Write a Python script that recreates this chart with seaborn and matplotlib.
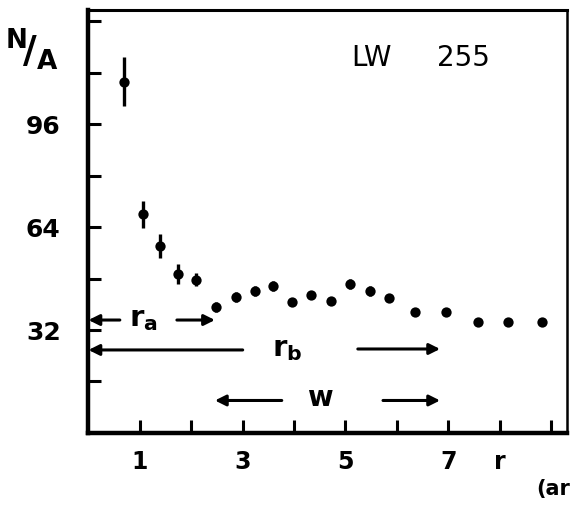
import numpy as np
import pandas as pd
import matplotlib
matplotlib.use("Agg")
import matplotlib.pyplot as plt
import seaborn as sns

# radius (arcmin) and surface density N/A
r_vals = [0.69, 1.07, 1.39, 1.75, 2.09, 2.48, 2.87, 3.24, 3.58, 3.96,
          4.32, 4.72, 5.09, 5.48, 5.85, 6.35, 6.95, 7.57, 8.17, 8.82]
density = [109.2, 67.9, 58.1, 49.4, 47.6, 39.1, 42.2, 44.2, 45.7, 40.6,
           43.0, 41.1, 46.3, 44.2, 42.0, 37.5, 37.5, 34.4, 34.4, 34.4]
errors = [7.7, 4.3, 3.7, 3.0, 2.0, 1.6, 1.5, 1.5, 1.6, 0.0,
          0.8, 0.0, 1.6, 1.5, 1.2, 0.0, 0.0, 0.0, 0.0, 0.0]

x_ticks = [1, 2, 3, 4, 5, 6, 7, 8, 9]
x_ticklabels = ["1", "", "3", "", "5", "", "7", "r", ""]
y_ticks = [16, 32, 48, 64, 80, 96, 112, 128]
y_ticklabels = ["", "32", "", "64", "", "96", "", ""]

df = pd.DataFrame({"r": r_vals, "na": density, "err": errors})

sns.set_style("ticks")
plt.rcParams["font.family"] = ["DejaVu Sans"]
plt.rcParams["mathtext.default"] = "regular"
plt.rcParams["text.color"] = "black"
plt.rcParams["xtick.color"] = "black"
plt.rcParams["ytick.color"] = "black"
plt.rcParams["axes.labelcolor"] = "black"

fig = plt.figure(figsize=(5.72, 5.07), dpi=100)
ax = fig.add_axes([0.1547, 0.146, 0.8366, 0.834])

ax.errorbar(df["r"], df["na"], yerr=df["err"], fmt="none", ecolor="black",
            elinewidth=2.4, capsize=0)
sns.scatterplot(data=df, x="r", y="na", ax=ax, color="black", s=55,
                edgecolor="black", linewidth=0, zorder=3)

ax.set_xlim(0, 9.31)
ax.set_ylim(0, 131.4)
ax.set_xticks(x_ticks)
ax.set_xticklabels(x_ticklabels, fontsize=17, fontweight="bold", color="black")
ax.set_yticks(y_ticks)
ax.set_yticklabels(y_ticklabels, fontsize=18, fontweight="bold", color="black")
ax.tick_params(axis="both", direction="in", length=9.5, width=2.2, color="black")
ax.tick_params(axis="y", pad=20)
ax.tick_params(axis="x", pad=12)
ax.set_xlabel("")
ax.set_ylabel("")

for side, lw in [("left", 3.2), ("bottom", 3.2), ("top", 2.2), ("right", 1.8)]:
    ax.spines[side].set_visible(True)
    ax.spines[side].set_linewidth(lw)
    ax.spines[side].set_color("black")

# title-like label inside the panel
ax.text(5.12, 116.5, "LW", fontsize=20, ha="left", va="center", color="black")
ax.text(6.78, 116.5, "255", fontsize=20, ha="left", va="center", color="black")

# N/A axis label drawn as a stacked fraction
fig.text(0.056, 0.902, r"$^{\mathbf{N}}\!\mathbf{/}_{\mathbf{A}}$", fontsize=27,
         ha="center", va="center")

# radius unit, cut at the figure edge in the original
fig.text(0.938, 0.035, "(ar", fontsize=15, fontweight="bold", ha="left", va="center")

arrow = dict(arrowstyle="-|>", lw=2.2, color="black", mutation_scale=16,
             shrinkA=0, shrinkB=0)

# r_a marker
ax.annotate("", xy=(0.0, 35.1), xytext=(0.61, 35.1), arrowprops=arrow)
ax.text(1.06, 35.4, r"$\mathbf{r}_{\mathbf{a}}$", fontsize=21, ha="center", va="center")
ax.annotate("", xy=(2.46, 35.1), xytext=(1.72, 35.1), arrowprops=arrow)

# r_b marker
ax.annotate("", xy=(0.0, 25.8), xytext=(3.0, 25.8), arrowprops=arrow)
ax.text(3.86, 26.0, r"$\mathbf{r}_{\mathbf{b}}$", fontsize=21, ha="center", va="center")
ax.annotate("", xy=(6.84, 26.1), xytext=(5.24, 26.1), arrowprops=arrow)

# w marker
ax.annotate("", xy=(2.46, 10.1), xytext=(3.76, 10.1), arrowprops=arrow)
ax.text(4.5, 11.0, "w", fontsize=20, fontweight="bold", ha="center", va="center")
ax.annotate("", xy=(6.84, 10.1), xytext=(5.73, 10.1), arrowprops=arrow)

fig.savefig("out.png", dpi=100)
